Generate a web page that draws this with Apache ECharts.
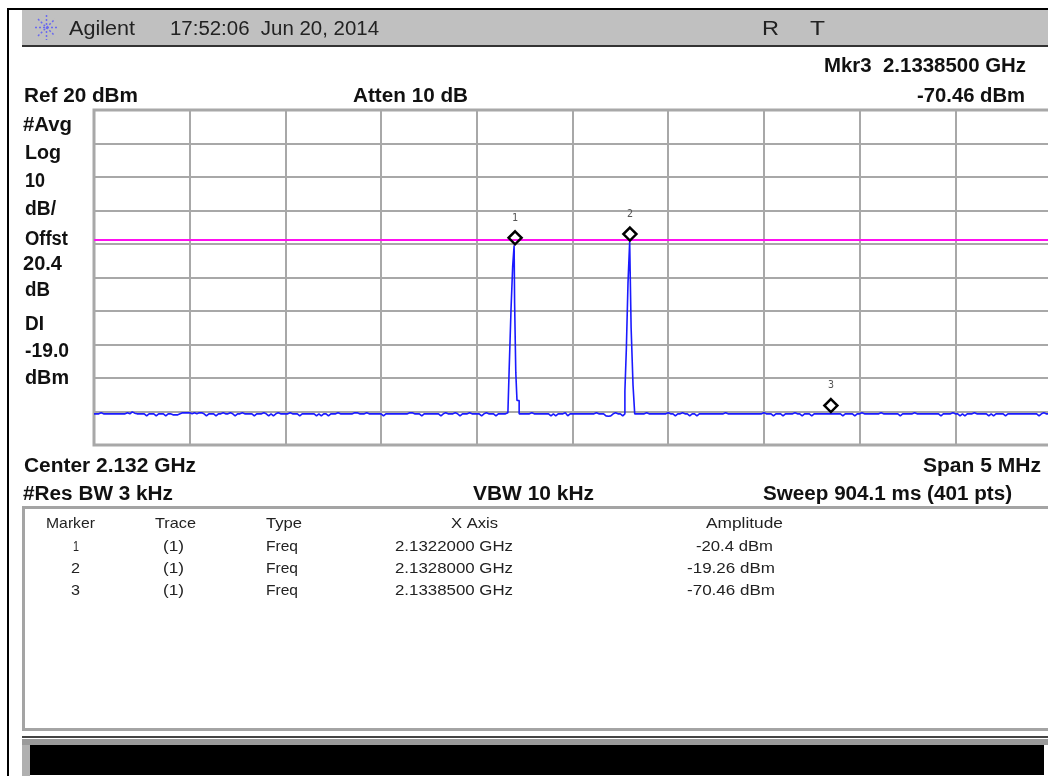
<!DOCTYPE html>
<html><head><meta charset="utf-8">
<script src="https://cdn.jsdelivr.net/npm/echarts@6/dist/echarts.min.js"></script>
<style>html,body{margin:0;padding:0;background:#fff}#c{width:1048px;height:776px}</style>
</head><body><div id="c"></div>
<script>
const sweepStartGHz = 2.13, sweepStopGHz = 2.135, sweepStepGHz = 0.0000125;
const refLevel = 20, bottomLevel = -80, dbPerDiv = 10;
const displayLine = -18.6;

// trace points 0..173
const traceLeft = [
-70.7,-70.7,-70.7,-70.4,-70.7,-70.7,-70.7,-70.7,-70.7,-70.7,
-70.7,-70.7,-70.7,-70.7,-70.4,-70.7,-70.1,-70.5,-70.7,-70.7,
-70.7,-70.7,-71.3,-70.7,-70.7,-70.7,-71.3,-70.7,-70.7,-70.7,
-71.3,-70.7,-70.7,-71,-71,-71,-70.7,-70.4,-70.4,-70.4,
-70.4,-70.7,-70.4,-70.7,-70.4,-70.4,-70.7,-71.3,-70.7,-70.7,
-70.7,-71.3,-70.7,-70.7,-70.4,-70.7,-70.7,-70.4,-70.7,-71.3,
-70.7,-70.7,-70.4,-70.7,-70.7,-70.7,-70.7,-71.3,-70.7,-70.7,
-70.7,-70.4,-70.7,-71.3,-70.7,-71.3,-70.7,-70.4,-70.7,-70.7,
-70.7,-70.7,-70.4,-70.7,-70.7,-70.7,-71.3,-70.7,-70.7,-70.7,
-70.7,-70.7,-70.7,-71.3,-70.7,-71.3,-70.7,-70.7,-71.3,-70.7,
-70.7,-70.7,-70.4,-70.7,-70.7,-70.7,-70.7,-70.7,-70.7,-70.4,
-70.4,-70.7,-70.7,-70.7,-70.4,-70.7,-70.7,-70.7,-70.7,-70.7,
-70.7,-71.3,-70.7,-70.7,-70.7,-70.7,-70.7,-70.7,-70.7,-70.7,
-70.7,-70.7,-70.4,-70.4,-70.7,-70.7,-70.7,-71.3,-70.7,-70.7,
-70.7,-70.7,-70.7,-70.7,-70.7,-71.3,-70.7,-70.4,-70.7,-70.7,
-70.7,-70.4,-70.7,-71.3,-70.7,-70.7,-70.7,-70.4,-70.7,-70.7,
-70.7,-70.7,-71.3,-70.7,-70.4,-70.7,-70.7,-70.7,-71.3,-70.7,
-70.7,-70.7,-70.7,-70.4];
// first peak outline: [sweep point, dBm]
const peak1 = [[173.5,-70.7],[173.5,-58.1],[174.3,-58.1],[174.3,-39.6],[175,-39.6],[175,-26.6],
[175.6,-26.6],[175.6,-20.4],[175.8,-20.4],[175.8,-37.5],[176.3,-37.5],[176.3,-58.4],[176.8,-58.4],[176.8,-66.7],[177.7,-66.7],[177.7,-70.7]];
// trace points 178..221
const traceMid = [
-70.7,-70.7,-70.7,-70.7,-70.7,-70.4,-70.7,-70.7,-70.7,-70.7,
-70.7,-70.7,-70.7,-71.3,-70.7,-71.3,-70.7,-70.7,-70.7,-70.4,
-71.3,-70.7,-70.7,-70.7,-70.7,-70.7,-70.7,-70.7,-70.7,-70.7,
-70.7,-70.7,-70.4,-70.7,-70.7,-70.7,-71.3,-71.4,-71.3,-70.7,
-70.4,-70.7,-70.7,-71.3];
// second peak outline: [sweep point, dBm]
const peak2 = [[221.9,-70.7],[221.9,-63.9],[222.5,-63.9],[222.5,-51.5],[223.2,-51.5],[223.2,-31.6],
[223.9,-31.6],[223.9,-19.26],[224.1,-19.26],[224.1,-28.1],[224.5,-28.1],[224.5,-45],[225.3,-45],[225.3,-62.2],[226,-62.2],[226,-70.7]];
// trace points 227..400
const traceRight = [
-70.7,-70.7,-70.7,-70.7,-70.4,-70.7,-70.7,-70.7,-70.7,-70.7,
-70.7,-70.7,-70.7,-70.4,-70.7,-70.7,-71.3,-70.7,-70.7,-70.4,
-70.7,-70.7,-71.3,-70.7,-70.7,-71.3,-70.7,-70.7,-70.7,-70.7,
-70.7,-70.7,-70.7,-70.7,-70.7,-70.7,-70.7,-70.4,-70.7,-70.7,
-70.7,-70.7,-70.7,-70.7,-70.7,-70.7,-70.7,-70.7,-70.7,-70.7,
-70.7,-70.7,-70.7,-70.4,-70.7,-70.7,-70.7,-71.3,-70.7,-70.7,
-70.7,-71.3,-70.7,-70.7,-70.7,-70.7,-70.4,-70.7,-70.7,-71.3,
-70.7,-70.7,-70.7,-71.3,-70.7,-70.7,-70.7,-70.7,-70.7,-70.7,
-70.7,-70.7,-70.7,-70.7,-70.7,-70.7,-71.3,-70.7,-70.7,-70.7,
-70.7,-71.3,-70.7,-70.7,-70.4,-70.7,-70.7,-70.7,-70.7,-70.7,
-70.7,-70.7,-70.4,-70.7,-70.7,-70.7,-70.7,-70.7,-70.7,-70.7,
-71.3,-70.7,-70.7,-70.7,-70.7,-70.7,-70.4,-70.7,-70.7,-70.7,
-70.7,-70.7,-70.7,-70.7,-70.7,-70.7,-70.7,-71.3,-70.7,-70.7,
-70.7,-70.7,-70.4,-70.7,-70.7,-71.3,-70.7,-71.3,-70.7,-70.7,
-70.7,-70.4,-70.7,-70.7,-70.7,-70.7,-70.7,-71.3,-70.7,-71.3,
-70.7,-70.7,-70.7,-70.7,-71.3,-70.7,-70.7,-70.7,-70.7,-70.7,
-70.7,-70.7,-70.7,-70.7,-70.7,-70.7,-70.7,-70.7,-71.3,-70.7,
-70.4,-70.7,-70.7,-70.7];

const markerNames = ['1','2','3'];
const markerFreqs = [2.1322, 2.1328, 2.13385];
const markerLevels = [-20.4, -19.26, -70.46];
const tableHeaders = ['Marker','Trace','Type','X Axis','Amplitude'];
const tableTrace = ['(1)','(1)','(1)'];
const tableType = ['Freq','Freq','Freq'];
const tableX = ['2.1322000 GHz','2.1328000 GHz','2.1338500 GHz'];
const tableAmp = ['-20.4 dBm','-19.26 dBm','-70.46 dBm'];

const toX = i => sweepStartGHz + i * sweepStepGHz;
const traceData = [];
traceLeft.forEach((v,i)=>traceData.push([toX(i),v]));
peak1.forEach(p=>traceData.push([toX(p[0]),p[1]]));
traceMid.forEach((v,i)=>traceData.push([toX(178+i),v]));
peak2.forEach(p=>traceData.push([toX(p[0]),p[1]]));
traceRight.forEach((v,i)=>traceData.push([toX(227+i),v]));

const FONT = '"Liberation Sans", Arial, sans-serif';
const mctx = document.createElement('canvas').getContext('2d');
function txt(s, x0, x1, y, weight, size, fill){
  const font = (weight?weight+' ':'') + size + 'px ' + FONT;
  mctx.font = font;
  const w = mctx.measureText(s).width;
  return {type:'text', x:x0, y:y+1, scaleX:(x1-x0)/w, z:20, silent:true,
    style:{text:s, x:0, y:0, font:font, fill:fill||'#111', verticalAlign:'middle', align:'left'}};
}
function box(x,y,w,h,fill,z){return {type:'rect',z:z||1,silent:true,shape:{x,y,width:w,height:h},style:{fill}};}
function ray(x1,y1,x2,y2){return {type:'line',z:20,silent:true,shape:{x1,y1,x2,y2},style:{stroke:'#6a6aee',lineWidth:1.5,lineDash:[2,2]}};}
const B = (s,a,b,y)=>txt(s,a,b,y,'bold',20,'#111');
const H = (s,a,b,y)=>txt(s,a,b,y,'',20,'#222');
const T = (s,a,b,y)=>txt(s,a,b,y,'',15,'#222');
const rowY = [546,568,590];
const graphics = [
  box(7,8,1041,2,'#000'), box(7,8,2,768,'#000'),
  box(22,10,1026,36,'#c0c0c0'), box(22,45,1026,2,'#333'),
  ray(35,27.5,58,27.5), ray(46.5,15,46.5,40), ray(38,19,55,36), ray(38,36,55,19),
  H('Agilent',69,135,28), H('17:52:06  Jun 20, 2014',170,379,28), H('R',762,779,28), H('T',810,825,28),
  B('Mkr3  2.1338500 GHz',824,1026,65), B('-70.46 dBm',917,1025,95),
  B('Ref 20 dBm',24,138,95), B('Atten 10 dB',353,468,95),
  B('#Avg',23,72,124), B('Log',25,61,152), B('10',25,45,180), B('dB/',25,56,208), B('Offst',25,68,238),
  B('20.4',23,62,263), B('dB',25,50,289), B('DI',25,44,323), B('-19.0',25,69,350), B('dBm',25,69,377),
  B('Center 2.132 GHz',24,196,465), B('Span 5 MHz',923,1041,465),
  B('#Res BW 3 kHz',23,173,493), B('VBW 10 kHz',473,594,493), B('Sweep 904.1 ms (401 pts)',763,1012,493),
  {type:'rect',z:1,silent:true,shape:{x:23.5,y:507.5,width:1030,height:222},style:{fill:'#fff',stroke:'#a4a4a4',lineWidth:3}},
  T(tableHeaders[0],46,95,523), T(tableHeaders[1],155,196,523), T(tableHeaders[2],266,302,523),
  T(tableHeaders[3],451,498,523), T(tableHeaders[4],706,783,523),
  box(22,736,1026,2,'#444'), box(22,739,1026,6,'#9a9a9a'), box(22,745,8,31,'#b0b0b0'),
  box(30,745,1014,30,'#000')
];
markerNames.forEach((m,i)=>{
  graphics.push(T(m,i===0?73:71,i===0?79:80,rowY[i]));
  graphics.push(T(tableTrace[i],163,184,rowY[i]));
  graphics.push(T(tableType[i],266,298,rowY[i]));
  graphics.push(T(tableX[i],395,513,rowY[i]));
  graphics.push(T(tableAmp[i],i===0?696:687,i===0?773:775,rowY[i]));
});

const chart = echarts.init(document.getElementById('c'),null,{renderer:'canvas',width:1048,height:776});
chart.setOption({
  animation:false,
  backgroundColor:'#fff',
  graphic:graphics,
  grid:{left:94,top:110,width:957,height:335,outerBoundsMode:'none',show:true,borderColor:'#a8a8a8',borderWidth:3,backgroundColor:'#fff'},
  xAxis:{type:'value',min:sweepStartGHz,max:sweepStopGHz,interval:0.0005,
    axisLabel:{show:false},axisTick:{show:false},axisLine:{show:false},
    splitLine:{show:true,lineStyle:{color:'#a8a8a8',width:2}}},
  yAxis:{type:'value',min:bottomLevel,max:refLevel,interval:dbPerDiv,
    axisLabel:{show:false},axisTick:{show:false},axisLine:{show:false},
    splitLine:{show:true,lineStyle:{color:'#a8a8a8',width:2}}},
  series:[
    {type:'line',name:'Trace 1',data:traceData,showSymbol:false,symbol:'none',z:5,
     lineStyle:{color:'#1a1aff',width:1.6},
     markLine:{silent:true,symbol:'none',label:{show:false},animation:false,z:4,
       lineStyle:{color:'#ff10f0',width:2,type:'solid',opacity:1},data:[{yAxis:displayLine}]}},
    {type:'scatter',name:'Markers',z:6,
     data:markerFreqs.map((f,i)=>({value:[f,markerLevels[i]],name:markerNames[i]})),
     symbol:'diamond',symbolSize:[13,13],symbolOffset:[0,-7.5],
     itemStyle:{color:'rgba(255,255,255,0)',borderColor:'#000',borderWidth:2.5,opacity:1},
     label:{show:true,position:'top',distance:7,formatter:p=>p.name,
       fontFamily:'"DejaVu Sans Mono", monospace',fontSize:10,color:'#555'}}
  ]
});
</script></body></html>
